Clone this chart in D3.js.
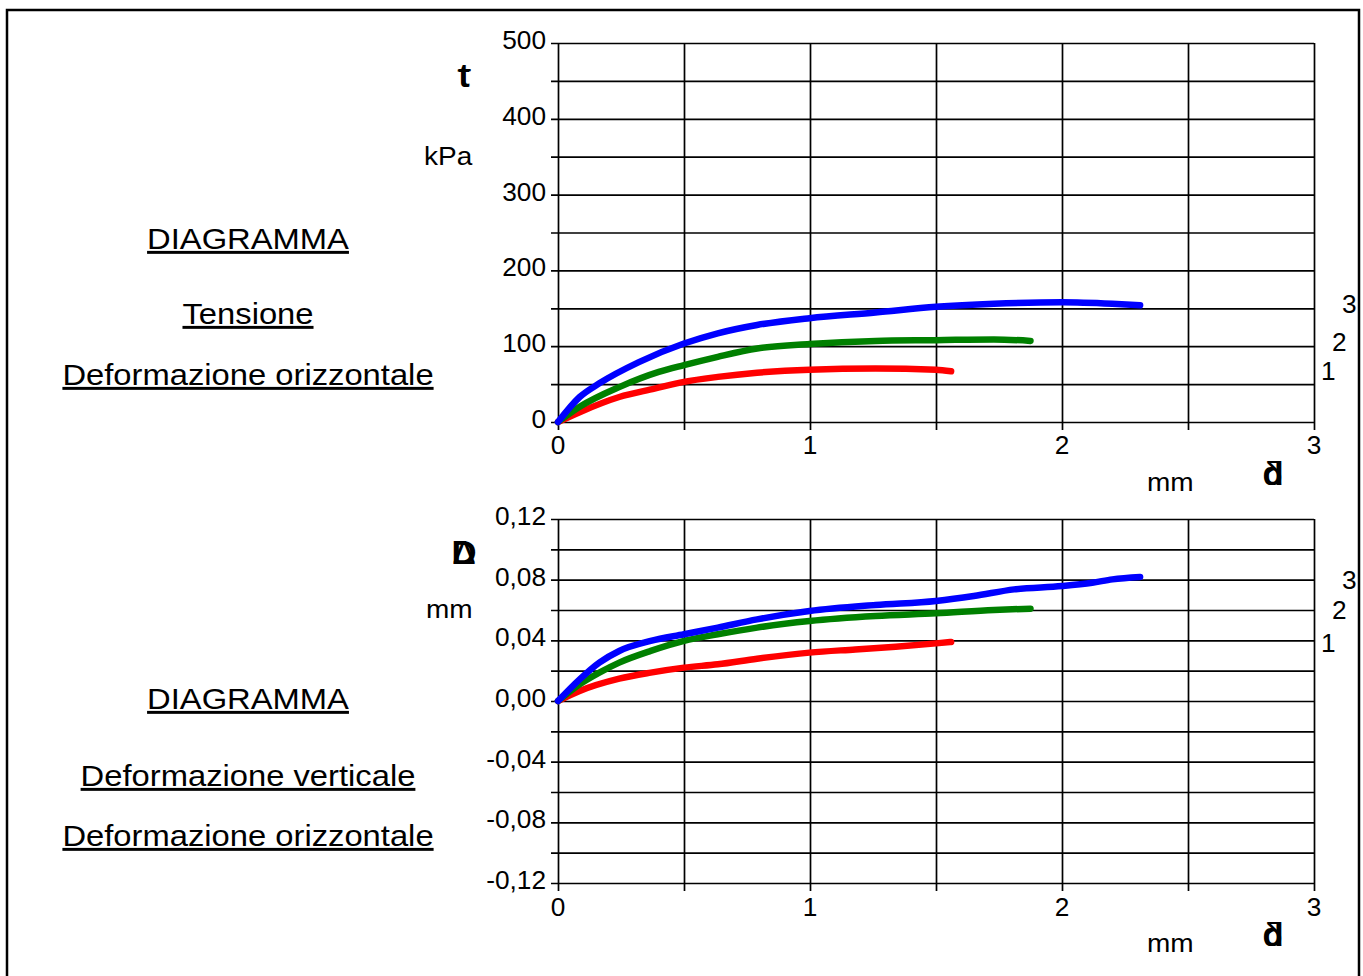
<!DOCTYPE html>
<html>
<head>
<meta charset="utf-8">
<script src="https://cdn.jsdelivr.net/npm/d3@7"></script>
<style>
  body { margin: 0; background: #fff; }
  svg text { font-family: "Liberation Sans", Arial, sans-serif; fill: #000; }
</style>
</head>
<body>
<svg id="chart" width="1363" height="976"></svg>
<script>
// shear displacement (mm) vs shear stress (kPa), series 1..3
const tauS1 = [[0,0],[0.086,13],[0.243,33],[0.383,44],[0.5,53],[0.634,59.5],[0.79,65],[0.998,69],[1.26,70.5],[1.5,69],[1.56,67]];
const tauS2 = [[0,0],[0.086,20],[0.243,46],[0.4,66],[0.5,75],[0.634,86],[0.79,97],[0.998,103],[1.26,107],[1.5,108],[1.73,109],[1.875,107]];
const tauS3 = [[0,0],[0.086,33],[0.164,51],[0.321,79],[0.5,103.5],[0.634,117],[0.79,128],[0.998,137],[1.26,144.5],[1.5,152],[1.73,156],[2.0,158],[2.2,156],[2.31,154]];

// shear displacement (mm) vs vertical displacement (mm)
const dvS1 = [[0,0],[0.086,0.0066],[0.243,0.0147],[0.368,0.0187],[0.5,0.022],[0.634,0.0242],[0.79,0.0279],[0.998,0.0319],[1.18,0.034],[1.34,0.0358],[1.5,0.038],[1.56,0.0389]];
const dvS2 = [[0,0],[0.086,0.011],[0.164,0.0187],[0.243,0.0253],[0.368,0.033],[0.5,0.0396],[0.634,0.044],[0.79,0.0484],[0.998,0.0527],[1.26,0.056],[1.5,0.0578],[1.73,0.06],[1.875,0.0609]];
const dvS3 = [[0,0],[0.086,0.0143],[0.164,0.0253],[0.243,0.033],[0.368,0.0396],[0.5,0.044],[0.634,0.0484],[0.79,0.0538],[0.998,0.0593],[1.26,0.0633],[1.5,0.066],[1.65,0.0692],[1.81,0.0736],[2.0,0.0758],[2.12,0.078],[2.2,0.0802],[2.31,0.0818]];

const seriesNames = ["1", "2", "3"];
const seriesColors = ["#ff0000", "#008000", "#0000ff"];

const xLabelTicks = [0, 1, 2, 3];
const xGridTicks = [0, 0.5, 1, 1.5, 2, 2.5, 3];
const tauLabelTicks = [0, 100, 200, 300, 400, 500];
const tauGridTicks = d3.range(0, 501, 50);
const dvLabelTicks = [-0.12, -0.08, -0.04, 0, 0.04, 0.08, 0.12];
const dvGridTicks = d3.range(-6, 7).map(i => i * 0.02);

const svg = d3.select("#chart");

function label(x, y, txt, size, anchor, sx, extra) {
    const t = svg.append("text")
        .attr("transform", `translate(${x},${y}) scale(${sx || 1.12},1)`)
        .attr("font-size", size)
        .attr("text-anchor", anchor || "start")
        .text(txt);
    if (extra) extra(t);
    return t;
}

// outer frame
svg.append("rect").attr("x", 7).attr("y", 10).attr("width", 1352).attr("height", 980)
    .attr("fill", "none").attr("stroke", "#000").attr("stroke-width", 2.5);

const x = d3.scaleLinear().domain([0, 3]).range([558, 1314]);
const yTau = d3.scaleLinear().domain([0, 500]).range([422, 43]);
const yDv = d3.scaleLinear().domain([-0.12, 0.12]).range([883, 519]);

const comma = f => v => f(v).replace(".", ",").replace("−", "-");

function panel(y, gridY, labelY, fmt, xAxisY, xLabelBase, data, seriesY) {
    const g = svg.append("g");
    // horizontal grid + left ticks
    g.append("g").attr("transform", `translate(${x(0)},0)`)
        .call(d3.axisLeft(y).tickValues(gridY).tickSizeInner(-(x(3) - x(0))).tickSizeOuter(0).tickFormat(""))
        .call(a => a.select(".domain").remove())
        .call(a => a.selectAll("line").attr("x1", -7).attr("stroke", "#000").attr("stroke-width", 1.7));
    // vertical grid + bottom ticks
    g.append("g").attr("transform", `translate(0,${xAxisY})`)
        .call(d3.axisBottom(x).tickValues(xGridTicks).tickSizeInner(-(xAxisY - y.range()[1])).tickSizeOuter(0).tickFormat(""))
        .call(a => a.select(".domain").remove())
        .call(a => a.selectAll("line").attr("y1", 8).attr("stroke", "#000").attr("stroke-width", 1.7));

    labelY.forEach(v => label(546, y(v) + 6, fmt(v), 25, "end", 1.05));
    xLabelTicks.forEach(v => label(x(v), xLabelBase, String(v), 25, "middle", 1.05));

    const line = d3.line().curve(d3.curveMonotoneX).x(d => x(d[0])).y(d => y(d[1]));
    data.forEach((s, i) => {
        g.append("path").datum(s).attr("d", line)
            .attr("fill", "none").attr("stroke", seriesColors[i])
            .attr("stroke-width", 6.5).attr("stroke-linecap", "round").attr("stroke-linejoin", "round");
    });
    seriesNames.forEach((n, i) => label(seriesY[i][0], seriesY[i][1], n, 25, "start", 1.05));
}

panel(yTau, tauGridTicks, tauLabelTicks, d3.format("d"), 422, 454,
    [tauS1, tauS2, tauS3], [[1321, 380], [1332, 351], [1342, 313]]);
panel(yDv, dvGridTicks, dvLabelTicks, comma(d3.format(".2f")), 883, 916,
    [dvS1, dvS2, dvS3], [[1321, 652], [1332, 619], [1342, 589]]);

// axis symbols (overprinted Symbol-font glyphs)
function symbol(xp, yp, a, b) {
    label(xp, yp, a, 33, "middle", 1.05, t => t.attr("font-weight", "bold"));
    label(xp, yp, b, 33, "middle", 1.05, t => t.attr("font-family", "DejaVu Serif"));
}
symbol(464, 87, "t", "τ");
symbol(1273, 485, "d", "δ");
symbol(1273, 946, "d", "δ");
symbol(464, 564, "D", "Δ");

label(424, 165, "kPa", 25);
label(426, 618, "mm", 25);
label(1147, 491, "mm", 25);
label(1147, 952, "mm", 25);

// titles
const titles = [["DIAGRAMMA", 249], ["Tensione", 324], ["Deformazione orizzontale", 385],
    ["DIAGRAMMA", 709], ["Deformazione verticale", 786], ["Deformazione orizzontale", 846]];
titles.forEach(([t, yb]) => label(248, yb, t, 29.5, "middle", 1.11, s => s.style("text-decoration", "underline")));
</script>
</body>
</html>
